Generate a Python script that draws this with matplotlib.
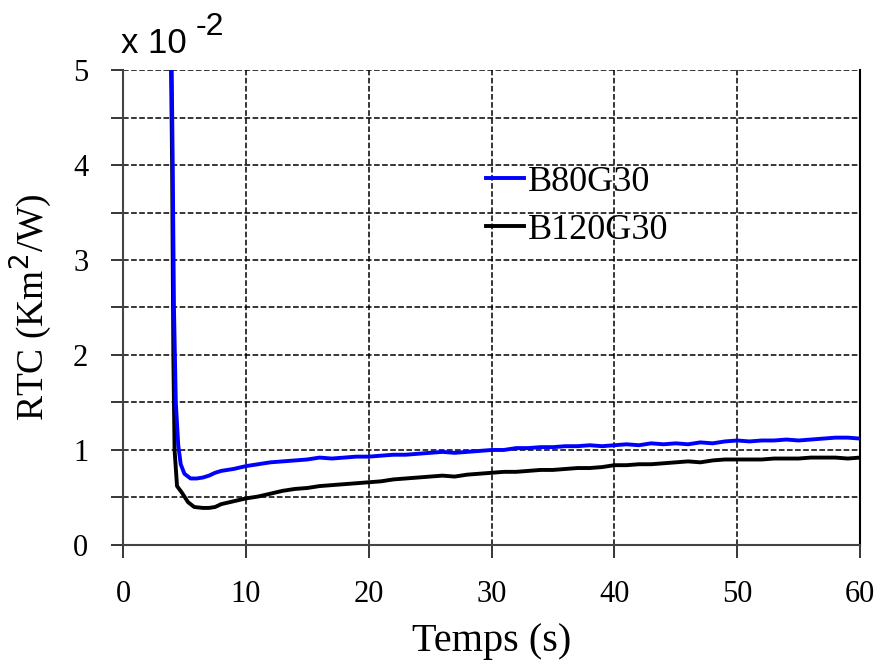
import matplotlib.pyplot as plt

# time (s) and RTC values in units of 1e-2 K m2/W
t_b80 = [3.95, 4.05, 4.15, 4.3, 4.5, 4.7, 5.0, 5.5, 6.0, 6.5, 7.0, 7.5, 8.0, 8.5, 9.0,
         10, 11, 12, 13, 14, 15, 16, 17, 18, 19, 20, 21, 22, 23, 24, 25, 26, 27, 28, 29,
         30, 31, 32, 33, 34, 35, 36, 37, 38, 39, 40, 41, 42, 43, 44, 45, 46, 47, 48, 49,
         50, 51, 52, 53, 54, 55, 56, 57, 58, 59, 60]
rtc_b80 = [5.2, 4.0, 2.5, 1.5, 1.05, 0.85, 0.75, 0.70, 0.70, 0.71, 0.73, 0.76, 0.78, 0.79, 0.80,
           0.83, 0.85, 0.87, 0.88, 0.89, 0.90, 0.92, 0.91, 0.92, 0.93, 0.93, 0.94, 0.95, 0.95,
           0.96, 0.97, 0.98, 0.97, 0.98, 0.99, 1.00, 1.00, 1.02, 1.02, 1.03, 1.03, 1.04, 1.04,
           1.05, 1.04, 1.05, 1.06, 1.05, 1.07, 1.06, 1.07, 1.06, 1.08, 1.07, 1.09, 1.10, 1.09,
           1.10, 1.10, 1.11, 1.10, 1.11, 1.12, 1.13, 1.13, 1.12]

t_b120 = [3.9, 4.0, 4.1, 4.2, 4.4, 4.8, 5.3, 5.8, 6.5, 7.0, 7.5, 8.0, 9,
          10, 11, 12, 13, 14, 15, 16, 17, 18, 19, 20, 21, 22, 23, 24, 25, 26, 27, 28, 29,
          30, 31, 32, 33, 34, 35, 36, 37, 38, 39, 40, 41, 42, 43, 44, 45, 46, 47, 48, 49,
          50, 51, 52, 53, 54, 55, 56, 57, 58, 59, 60]
rtc_b120 = [5.2, 4.0, 2.0, 1.0, 0.62, 0.55, 0.45, 0.40, 0.39, 0.39, 0.40, 0.43, 0.46,
            0.49, 0.51, 0.54, 0.57, 0.59, 0.60, 0.62, 0.63, 0.64, 0.65, 0.66, 0.67, 0.69,
            0.70, 0.71, 0.72, 0.73, 0.72, 0.74, 0.75, 0.76, 0.77, 0.77, 0.78, 0.79, 0.79,
            0.80, 0.81, 0.81, 0.82, 0.84, 0.84, 0.85, 0.85, 0.86, 0.87, 0.88, 0.87, 0.89,
            0.90, 0.90, 0.90, 0.90, 0.91, 0.91, 0.91, 0.92, 0.92, 0.92, 0.91, 0.92]

plt.rcParams['font.family'] = ['Liberation Serif', 'DejaVu Serif']

fig = plt.figure(figsize=(8.86, 6.7), dpi=100)
ax = fig.add_axes([0.1388, 0.1866, 0.8319, 0.7089])

ax.plot(t_b120, rtc_b120, c='black', lw=2.8, label='B120G30', zorder=3)
ax.plot(t_b80, rtc_b80, c='#0000ff', lw=2.8, label='B80G30', zorder=3)

ax.set_xlim(0, 60)
ax.set_ylim(0, 5)
ax.set_xticks(range(0, 61, 10))
ax.set_yticks([0, 1, 2, 3, 4, 5])
ax.set_yticks([0.5, 1.5, 2.5, 3.5, 4.5], minor=True)
ax.grid(True, which='both', axis='y', ls='--', c='black', lw=1.1)
ax.grid(True, which='major', axis='x', ls='--', c='black', lw=1.1)
ax.tick_params(axis='both', which='both', direction='out', length=9, width=1.1,
               labelsize=22)
ax.tick_params(axis='x', pad=16)
ax.tick_params(axis='y', pad=16)
ax.spines['top'].set_visible(False)
for s in ['left', 'bottom']:
    ax.spines[s].set_color('#444444')
    ax.spines[s].set_linewidth(1.5)
ax.spines['right'].set_linewidth(1.5)

ax.set_xlabel('Temps (s)', fontsize=29, labelpad=10)
ax.set_ylabel('RTC (Km$^2$/W)', fontsize=27, labelpad=14)

fig.text(0.137, 0.921, 'x 10', fontsize=25, family='Liberation Sans', va='baseline')
fig.text(0.221, 0.948, '-2', fontsize=23, family='Liberation Sans', va='baseline')

handles, labels = ax.get_legend_handles_labels()
ax.legend(handles[::-1], labels[::-1], loc='upper left', bbox_to_anchor=(0.4735, 0.829),
          frameon=False, fontsize=26, handlelength=1.05, handletextpad=0.1,
          labelspacing=0.4, borderaxespad=0)

fig.savefig('out.png', dpi=100)
